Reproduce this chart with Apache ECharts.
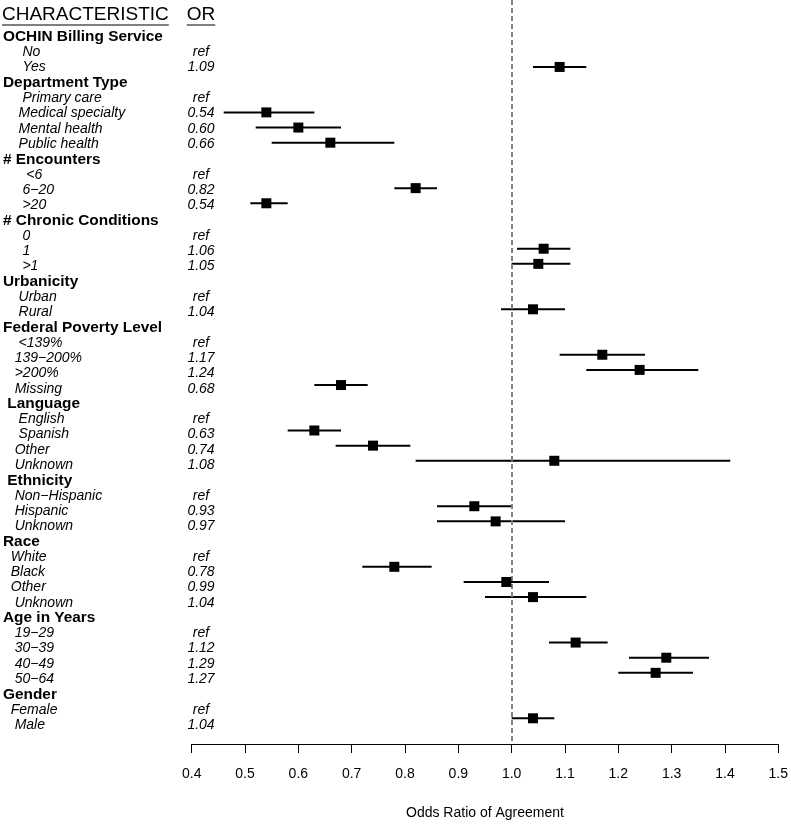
<!DOCTYPE html>
<html><head><meta charset="utf-8">
<script src="https://cdn.jsdelivr.net/npm/echarts@6/dist/echarts.min.js"></script>
<style>html,body{margin:0;padding:0;background:#fff}#c{width:791px;height:825px}</style>
</head><body><div id="c"></div>
<script>
// ---------------- data ----------------
const groupNames = ["OCHIN Billing Service", "Department Type", "# Encounters", "# Chronic Conditions",
  "Urbanicity", "Federal Poverty Level", " Language", " Ethnicity", "Race", "Age in Years", "Gender"];
const levelNames = [
  ["     No", "     Yes"],
  ["     Primary care", "    Medical specialty", "    Mental health", "    Public health"],
  ["      <6", "     6\u221220", "     >20"],
  ["     0", "     1", "     >1"],
  ["    Urban", "    Rural"],
  ["    <139%", "   139\u2212200%", "   >200%", "   Missing"],
  ["    English", "    Spanish", "   Other", "   Unknown"],
  ["   Non\u2212Hispanic", "   Hispanic", "   Unknown"],
  ["  White", "  Black", "  Other", "   Unknown"],
  ["   19\u221229", "   30\u221239", "   40\u221249", "   50\u221264"],
  ["  Female", "   Male"]
];
const oddsRatios = [
  [null, 1.09], [null, 0.54, 0.60, 0.66], [null, 0.82, 0.54], [null, 1.06, 1.05], [null, 1.04],
  [null, 1.17, 1.24, 0.68], [null, 0.63, 0.74, 1.08], [null, 0.93, 0.97], [null, 0.78, 0.99, 1.04],
  [null, 1.12, 1.29, 1.27], [null, 1.04]
];
const ciLower = [
  [null, 1.04], [null, 0.46, 0.52, 0.55], [null, 0.78, 0.51], [null, 1.01, 1.00], [null, 0.98],
  [null, 1.09, 1.14, 0.63], [null, 0.58, 0.67, 0.82], [null, 0.86, 0.86], [null, 0.72, 0.91, 0.95],
  [null, 1.07, 1.22, 1.20], [null, 1.00]
];
const ciUpper = [
  [null, 1.14], [null, 0.63, 0.68, 0.78], [null, 0.86, 0.58], [null, 1.11, 1.11], [null, 1.10],
  [null, 1.25, 1.35, 0.73], [null, 0.68, 0.81, 1.41], [null, 1.00, 1.10], [null, 0.85, 1.07, 1.14],
  [null, 1.18, 1.37, 1.34], [null, 1.08]
];
const refText = "ref";
const headerLabels = ["CHARACTERISTIC", "OR"];
const axisTitle = "Odds Ratio of Agreement";
const axisMin = 0.4, axisMax = 1.5, axisStep = 0.1;

// ---------------- layout ----------------
const FONT = '"Liberation Sans", Arial, Helvetica, sans-serif';
const rowTop = 37, rowH = 15.29, plotBottom = 751;
const yMin = -rowTop / rowH, yMax = (plotBottom - rowTop) / rowH;
const plotLeft = 191.7, plotRight = 778.7;
const orColX = 201, labelX = 3;

const rows = [];
let r = 0;
groupNames.forEach((g, gi) => {
  rows.push({ row: r++, label: g, header: true });
  levelNames[gi].forEach((lv, li) => {
    rows.push({ row: r++, label: lv, header: false,
      or: oddsRatios[gi][li], lo: ciLower[gi][li], hi: ciUpper[gi][li] });
  });
});
const estRows = rows.filter(d => d.or !== null && !d.header);
const levelRows = rows.filter(d => !d.header);

function textWidth(t, font) {
  const ctx = document.createElement('canvas').getContext('2d');
  ctx.font = font; return ctx.measureText(t).width;
}
const hdrFont = '19px ' + FONT;
const w0 = textWidth(headerLabels[0], hdrFont);
const w1 = textWidth(headerLabels[1], hdrFont);

const chart = echarts.init(document.getElementById('c'), null, { renderer: 'canvas' });
chart.setOption({
  animation: false,
  backgroundColor: '#fff',
  grid: [
    { left: 0, top: 0, width: 791, height: plotBottom },
    { left: plotLeft, top: 0, width: plotRight - plotLeft, height: plotBottom }
  ],
  xAxis: [
    { gridIndex: 0, type: 'value', min: 0, max: 791, show: false },
    { gridIndex: 1, type: 'value', min: axisMin, max: axisMax, interval: axisStep,
      axisLine: { show: true, onZero: false, lineStyle: { color: '#000', width: 1 } },
      axisTick: { show: true, length: 9, lineStyle: { color: '#000', width: 1 } },
      axisLabel: { color: '#000', fontSize: 14, fontFamily: FONT, margin: 23,
        formatter: v => v.toFixed(1) },
      splitLine: { show: false },
      name: axisTitle, nameLocation: 'middle', nameGap: 62,
      nameTextStyle: { color: '#000', fontSize: 14, fontFamily: FONT } }
  ],
  yAxis: [
    { gridIndex: 0, type: 'value', inverse: true, min: yMin, max: yMax, show: false },
    { gridIndex: 1, type: 'value', inverse: true, min: yMin, max: yMax, show: false }
  ],
  graphic: [
    { type: 'text', left: labelX - 1, top: 5, style: { text: headerLabels[0], font: hdrFont, fill: '#000' } },
    { type: 'line', shape: { x1: labelX - 1, y1: 25, x2: labelX - 1 + w0, y2: 25 }, style: { stroke: '#000', lineWidth: 1 } },
    { type: 'text', left: orColX - w1 / 2, top: 5, style: { text: headerLabels[1], font: hdrFont, fill: '#000' } },
    { type: 'line', shape: { x1: orColX - w1 / 2, y1: 25, x2: orColX + w1 / 2, y2: 25 }, style: { stroke: '#000', lineWidth: 1 } }
  ],
  series: [
    { // characteristic labels
      type: 'custom', xAxisIndex: 0, yAxisIndex: 0, silent: true,
      data: rows.map(d => [labelX, d.row]),
      renderItem: (params, api) => {
        const d = rows[params.dataIndex];
        const p = api.coord([api.value(0), api.value(1)]);
        return { type: 'text', x: p[0], y: p[1], style: {
          text: d.label, fill: '#000', align: 'left', verticalAlign: 'middle',
          font: d.header ? ('bold 15.4px ' + FONT) : ('italic 14px ' + FONT) } };
      }
    },
    { // OR column
      type: 'custom', xAxisIndex: 0, yAxisIndex: 0, silent: true,
      data: levelRows.map(d => [orColX, d.row]),
      renderItem: (params, api) => {
        const d = levelRows[params.dataIndex];
        const p = api.coord([api.value(0), api.value(1)]);
        return { type: 'text', x: p[0], y: p[1], style: {
          text: d.or === null ? refText : d.or.toFixed(2), fill: '#000',
          align: 'center', verticalAlign: 'middle', font: 'italic 14px ' + FONT } };
      }
    },
    { // CI lines
      type: 'custom', xAxisIndex: 1, yAxisIndex: 1, silent: true, clip: false,
      data: estRows.map(d => [d.lo, d.hi, d.row]),
      renderItem: (params, api) => {
        const a = api.coord([api.value(0), api.value(2)]);
        const b = api.coord([api.value(1), api.value(2)]);
        return { type: 'line', shape: { x1: a[0], y1: a[1], x2: b[0], y2: b[1] },
          style: { stroke: '#000', lineWidth: 2 } };
      }
    },
    { // point estimates
      type: 'scatter', xAxisIndex: 1, yAxisIndex: 1, silent: true, z: 5,
      symbol: 'rect', symbolSize: 10, itemStyle: { color: '#000', opacity: 1 },
      data: estRows.map(d => [d.or, d.row]),
      markLine: { silent: true, symbol: 'none', label: { show: false },
        lineStyle: { color: '#808080', width: 2, type: [5, 3] },
        data: [{ xAxis: 1.0 }] }
    }
  ]
});
</script></body></html>
